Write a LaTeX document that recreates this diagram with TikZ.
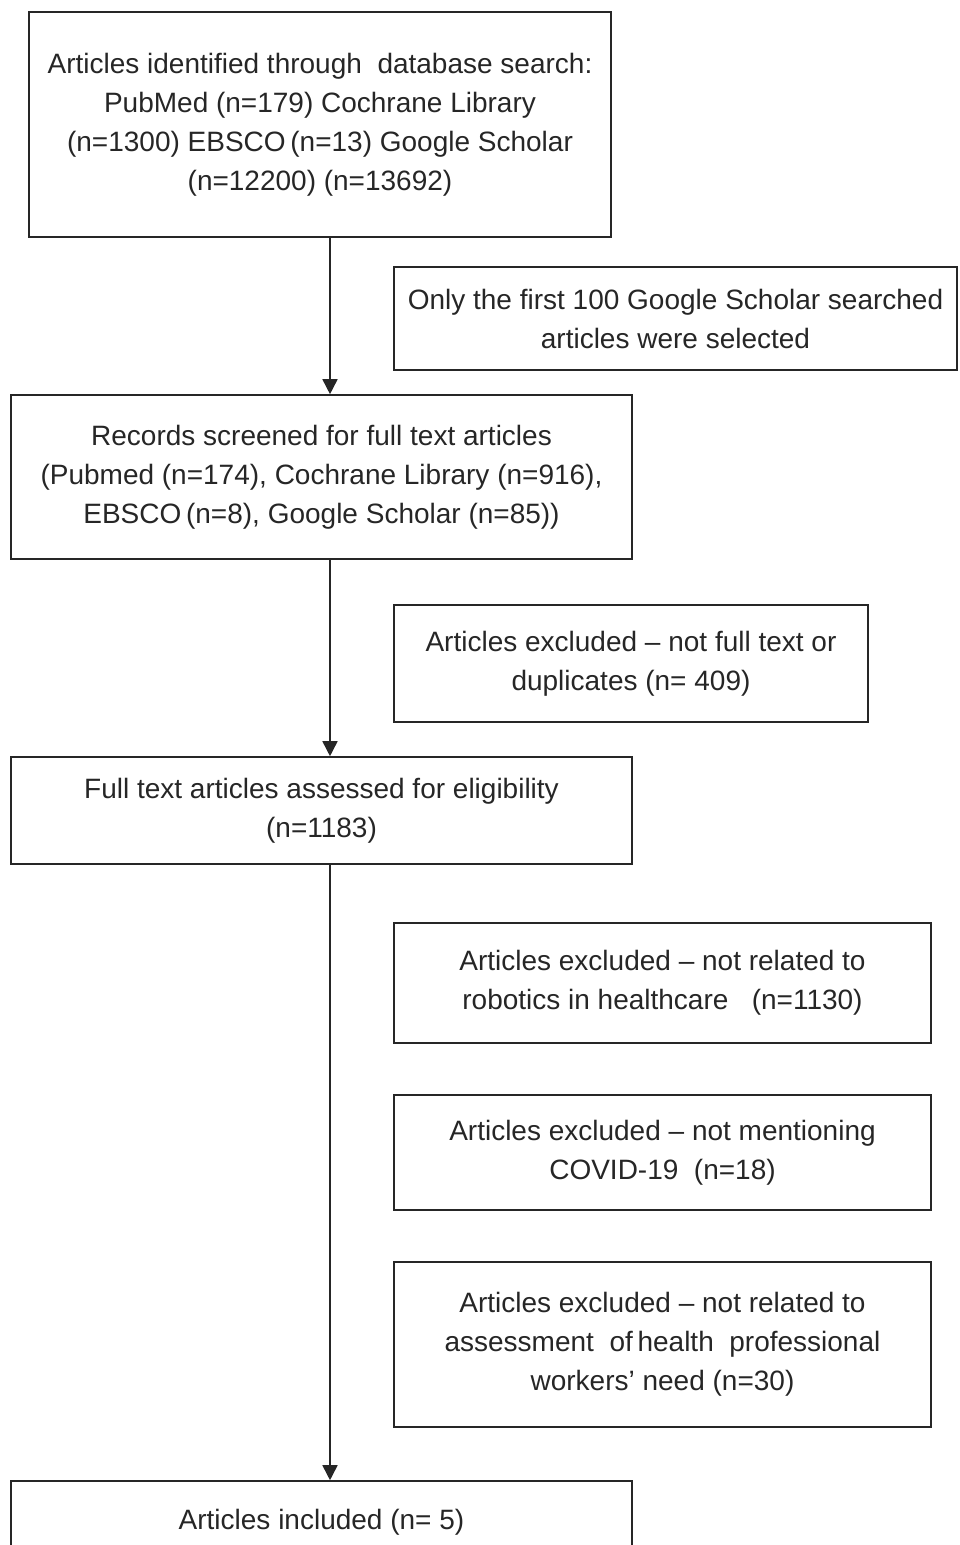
\documentclass[tikz,border=0pt]{standalone}
\usepackage{fontspec}
\setmainfont{Liberation Sans}
\usetikzlibrary{arrows.meta}
\begin{document}
\begin{tikzpicture}[x=1pt,y=-1pt,
  box/.style={draw=black!85, line width=1.6pt, inner sep=0pt, align=center,
    font=\fontsize{28}{39}\selectfont, text=black!85},
  arr/.style={draw=black!85, line width=1.6pt, -{Triangle[width=15pt,length=15pt]}}]
\useasboundingbox (0,0) rectangle (959,1545);
\clip (0,0) rectangle (959,1545);
\node[box, minimum width=582pt, minimum height=225pt] (b1) at (320,124.5)
  {Articles identified through\ \ database search:\\PubMed (n=179) Cochrane Library\\(n=1300) EBSCO\,(n=13) Google Scholar\\(n=12200) (n=13692)};
\node[box, minimum width=563pt, minimum height=103pt] (sa) at (675.5,318.5)
  {Only the first 100 Google Scholar searched\\articles were selected};
\node[box, minimum width=621pt, minimum height=164pt] (b2) at (321.5,477)
  {Records screened for full text articles\\(Pubmed (n=174), Cochrane Library (n=916),\\EBSCO\,(n=8), Google Scholar (n=85))};
\node[box, minimum width=474pt, minimum height=117pt] (sb) at (631,663.5)
  {Articles excluded -- not full text or\\duplicates (n= 409)};
\node[box, minimum width=621pt, minimum height=107pt] (b3) at (321.5,810.5)
  {Full text articles assessed for eligibility\\(n=1183)};
\node[box, minimum width=537pt, minimum height=120pt] (sc) at (662.5,983)
  {Articles excluded -- not related to\\robotics in healthcare\ \ \ (n=1130)};
\node[box, minimum width=537pt, minimum height=115pt] (sd) at (662.5,1152.5)
  {Articles excluded -- not mentioning\\COVID-19\ \ (n=18)};
\node[box, minimum width=537pt, minimum height=165pt] (se) at (662.5,1344.5)
  {Articles excluded -- not related to\\assessment\ \ of\,health\ \ professional\\workers' need (n=30)};
\node[box, minimum width=621pt, minimum height=82pt] (b4) at (321.5,1522)
  {Articles included (n= 5)};
\coordinate (ax) at (330,0);
\draw[arr] (b1.south -| ax) -- (b2.north -| ax);
\draw[arr] (b2.south -| ax) -- (b3.north -| ax);
\draw[arr] (b3.south -| ax) -- (b4.north -| ax);
\end{tikzpicture}
\end{document}
